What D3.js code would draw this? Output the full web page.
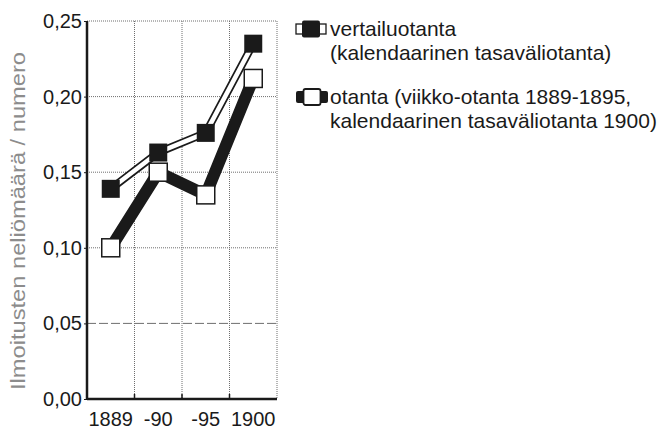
<!DOCTYPE html>
<html>
<head>
<meta charset="utf-8">
<script src="https://cdn.jsdelivr.net/npm/d3@7"></script>
<style>
    body { margin: 0; background: #fff; }
    svg { display: block; font-family: "Liberation Sans", Arial, Helvetica, sans-serif; }
</style>
</head>
<body>
<div id="chart-container"></div>
<script>
const years = ["1889", "-90", "-95", "1900"];
const vertailuValues = [0.139, 0.163, 0.176, 0.235];
const otantaValues = [0.100, 0.150, 0.135, 0.212];
const yTicks = [0, 0.05, 0.10, 0.15, 0.20, 0.25];
const legendLines = [
    ["vertailuotanta", "(kalendaarinen tasaväliotanta)"],
    ["otanta (viikko-otanta 1889-1895,", "kalendaarinen tasaväliotanta 1900)"]
];
const yLabel = "Ilmoitusten neliömäärä / numero";

const width = 664;
const height = 430;
const margin = { top: 21, right: 387, bottom: 31, left: 87 };
const innerW = width - margin.left - margin.right;
const innerH = height - margin.top - margin.bottom;
const ink = "#1a1a1a";

const x = d3.scaleBand()
    .domain(years)
    .range([0, innerW])
    .padding(0);

const y = d3.scaleLinear()
    .domain([0, 0.25])
    .range([innerH, 0]);

const fmt = function(d) { return d3.format(".2f")(d).replace(".", ","); };

const svg = d3.select("#chart-container")
    .append("svg")
    .attr("width", width)
    .attr("height", height);

const g = svg.append("g")
    .attr("transform", "translate(" + margin.left + "," + margin.top + ")");

// grid
g.selectAll(".hgrid")
    .data(yTicks.filter(function(d) { return d > 0; }))
    .enter().append("line")
    .attr("class", "hgrid")
    .attr("x1", 0)
    .attr("x2", innerW)
    .attr("y1", function(d) { return y(d); })
    .attr("y2", function(d) { return y(d); })
    .attr("stroke", "#6e6e6e")
    .attr("stroke-width", 1)
    .attr("stroke-dasharray", function(d) { return d === 0.05 ? "9,3" : "1,1"; });

const vgrid = years.slice(1).map(function(d) { return x(d); }).concat([innerW]);
g.selectAll(".vgrid")
    .data(vgrid)
    .enter().append("line")
    .attr("class", "vgrid")
    .attr("x1", function(d) { return d; })
    .attr("x2", function(d) { return d; })
    .attr("y1", 0)
    .attr("y2", innerH)
    .attr("stroke", "#6e6e6e")
    .attr("stroke-width", 1)
    .attr("stroke-dasharray", "1,1");

// axes
const yAxis = g.append("g")
    .call(d3.axisLeft(y).tickValues(yTicks).tickFormat(fmt).tickSize(3).tickPadding(2));
yAxis.select(".domain").attr("stroke", ink).attr("stroke-width", 2.5).attr("d", "M0," + innerH + "V0");
yAxis.selectAll(".tick line").attr("stroke", ink);
yAxis.selectAll(".tick text")
    .attr("fill", ink)
    .style("font-size", "20px")
    .style("font-family", "\"Liberation Sans\", Arial, sans-serif");

const xAxis = g.append("g")
    .attr("transform", "translate(0," + innerH + ")")
    .call(d3.axisBottom(x).tickSize(0).tickPadding(13));
xAxis.select(".domain").attr("stroke", ink).attr("stroke-width", 2.5).attr("d", "M0,0H" + innerW);
xAxis.selectAll(".tick text")
    .attr("fill", ink)
    .style("font-size", "20px")
    .style("font-family", "\"Liberation Sans\", Arial, sans-serif");

g.selectAll(".xtick")
    .data(vgrid.slice(0, 3))
    .enter().append("line")
    .attr("x1", function(d) { return d; })
    .attr("x2", function(d) { return d; })
    .attr("y1", innerH)
    .attr("y2", innerH - 5)
    .attr("stroke", ink)
    .attr("stroke-width", 1.5);

// lines
const line = d3.line()
    .x(function(d, i) { return x(years[i]) + x.bandwidth() / 2; })
    .y(function(d) { return y(d); });

g.append("path")
    .datum(vertailuValues)
    .attr("d", line)
    .attr("fill", "none")
    .attr("stroke", ink)
    .attr("stroke-width", 8);
g.append("path")
    .datum(vertailuValues)
    .attr("d", line)
    .attr("fill", "none")
    .attr("stroke", "#fff")
    .attr("stroke-width", 4.5);

g.append("path")
    .datum(otantaValues)
    .attr("d", line)
    .attr("fill", "none")
    .attr("stroke", ink)
    .attr("stroke-width", 12);

const s = 18;
g.selectAll(".m1")
    .data(vertailuValues)
    .enter().append("rect")
    .attr("class", "m1")
    .attr("x", function(d, i) { return x(years[i]) + x.bandwidth() / 2 - s / 2; })
    .attr("y", function(d) { return y(d) - s / 2; })
    .attr("width", s)
    .attr("height", s)
    .attr("fill", ink);

g.selectAll(".m2")
    .data(otantaValues)
    .enter().append("rect")
    .attr("class", "m2")
    .attr("x", function(d, i) { return x(years[i]) + x.bandwidth() / 2 - s / 2; })
    .attr("y", function(d) { return y(d) - s / 2; })
    .attr("width", s)
    .attr("height", s)
    .attr("fill", "#fff")
    .attr("stroke", ink)
    .attr("stroke-width", 1.5);

// y label
svg.append("text")
    .attr("transform", "translate(25,221) rotate(-90)")
    .attr("text-anchor", "middle")
    .attr("fill", "#8c8c8c")
    .attr("textLength", 338)
    .attr("lengthAdjust", "spacingAndGlyphs")
    .style("font-size", "21px")
    .text(yLabel);

// legend
const lx = 296;
const legendY = [29, 97];

const l1 = svg.append("g").attr("transform", "translate(" + lx + "," + legendY[0] + ")");
l1.append("rect").attr("x", 0).attr("y", -5).attr("width", 30).attr("height", 10)
    .attr("fill", "#fff").attr("stroke", ink).attr("stroke-width", 1.3);
l1.append("rect").attr("x", 6).attr("y", -8.5).attr("width", 18).attr("height", 17)
    .attr("rx", 2).attr("fill", ink);

const l2 = svg.append("g").attr("transform", "translate(" + lx + "," + legendY[1] + ")");
l2.append("rect").attr("x", 0).attr("y", -6).attr("width", 32).attr("height", 12)
    .attr("rx", 2).attr("fill", ink);
l2.append("rect").attr("x", 7.5).attr("y", -8).attr("width", 17).attr("height", 16)
    .attr("rx", 2).attr("fill", "#fff").attr("stroke", ink).attr("stroke-width", 1.8);

legendLines.forEach(function(lines, k) {
    lines.forEach(function(t, j) {
        svg.append("text")
            .attr("x", 330)
            .attr("y", legendY[k] + 7 + j * 24)
            .attr("fill", ink)
            .style("font-size", "21px")
            .text(t);
    });
});
</script>
</body>
</html>
